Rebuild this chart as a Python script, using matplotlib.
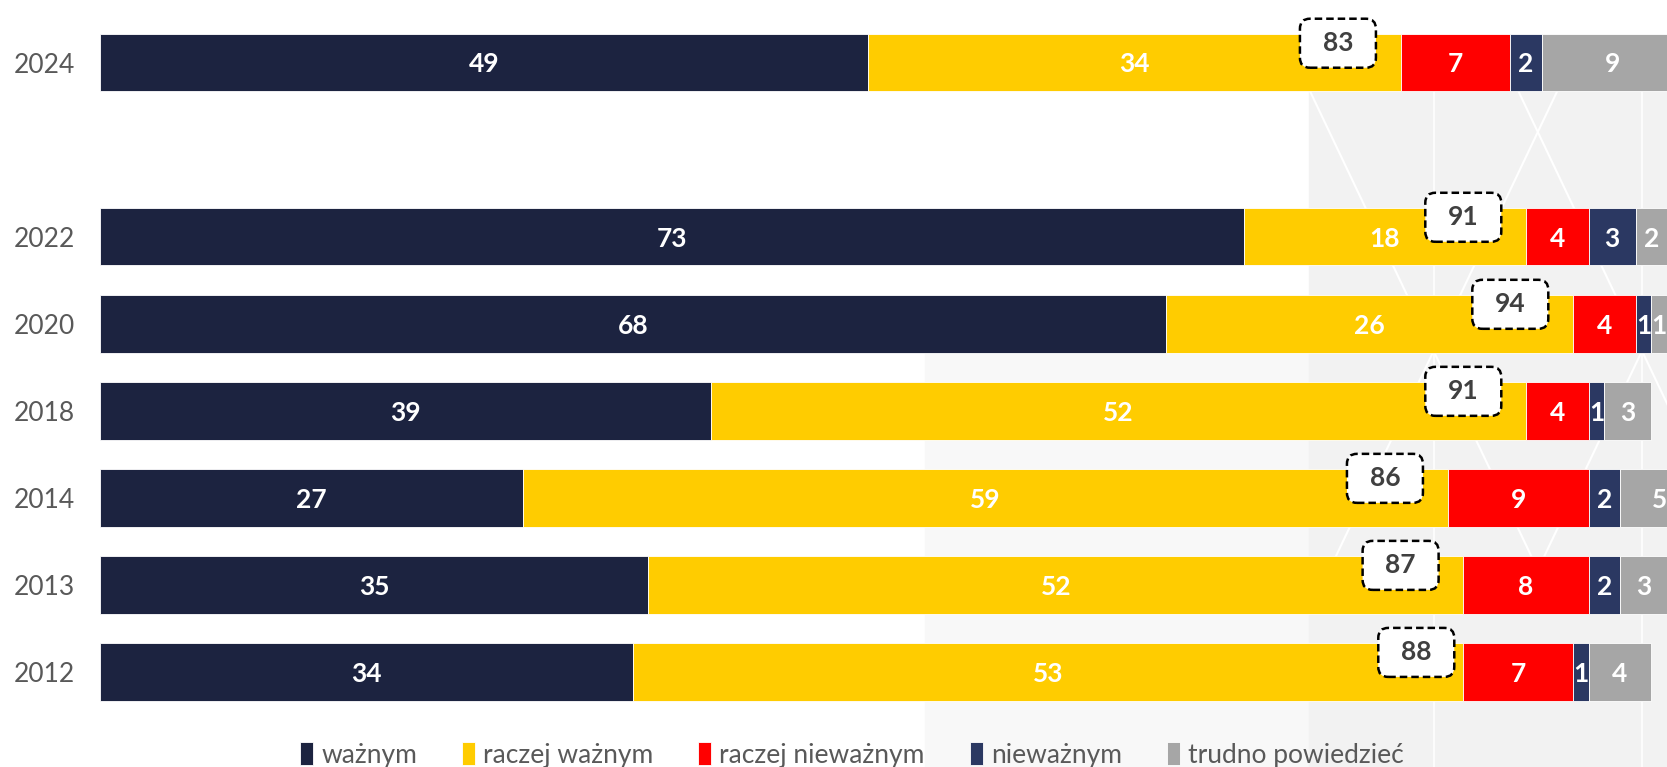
import numpy as np
import matplotlib.pyplot as plt
from matplotlib.patches import FancyBboxPatch, Rectangle
from matplotlib.transforms import ScaledTranslation

# dane
years = ['2024', '2022', '2020', '2018', '2014', '2013', '2012']
positions = [0, 2, 3, 4, 5, 6, 7]   # przerwa między 2024 a 2022
waznym = [49, 73, 68, 39, 27, 35, 34]
raczej_waznym = [34, 18, 26, 52, 59, 52, 53]
raczej_niewaznym = [7, 4, 4, 4, 9, 8, 7]
niewaznym = [2, 3, 1, 1, 2, 2, 1]
trudno = [9, 2, 1, 3, 5, 3, 4]
suma_waznych = [83, 91, 94, 91, 86, 87, 88]

labels = ['ważnym', 'raczej ważnym', 'raczej nieważnym', 'nieważnym', 'trudno powiedzieć']
colors = ['#1c2340', '#ffcc00', '#ff0000', '#2b3862', '#a6a6a6']
series = [waznym, raczej_waznym, raczej_niewaznym, niewaznym, trudno]

plt.rcParams['font.family'] = ['Lato', 'DejaVu Sans']

fig = plt.figure(figsize=(16.67, 7.67), dpi=100)

# tło - jasnoszary wzór po prawej
fig.patches.append(Rectangle((0.555, 0.0), 0.23, 0.60, transform=fig.transFigure,
                             color='#f8f8f8', zorder=-5))
fig.patches.append(Rectangle((0.785, 0.0), 0.215, 0.885, transform=fig.transFigure,
                             color='#f2f2f2', zorder=-5))
for x0 in [0.785, 0.91]:
    fig.lines.append(plt.Line2D([x0, x0 + 0.15], [0.885, 0.2], transform=fig.transFigure,
                                color='white', lw=1.5, zorder=-4))
    fig.lines.append(plt.Line2D([x0 + 0.15, x0], [0.885, 0.2], transform=fig.transFigure,
                                color='white', lw=1.5, zorder=-4))
    fig.lines.append(plt.Line2D([x0 + 0.075, x0 + 0.075], [0.885, 0.0], transform=fig.transFigure,
                                color='white', lw=1.2, zorder=-4))

ax = fig.add_axes([100 / 1667, 0.0559, 1 - 100 / 1667, 0.9304])
ax.patch.set_alpha(0)

left = np.zeros(len(years))
for vals, col, lab in zip(series, colors, labels):
    vals = np.array(vals, dtype=float)
    ax.barh(positions, vals, left=left, height=0.66, color=col,
            edgecolor='white', linewidth=0.6, label=lab)
    for p, l, v in zip(positions, left, vals):
        ax.text(l + v / 2, p + 0.02, f'{int(v)}', ha='center', va='center',
                color='white', fontsize=19, fontweight='bold')
    left += vals

# ramki z sumą odpowiedzi "ważnym" + "raczej ważnym"
for p, s in zip(positions, suma_waznych):
    tr = fig.dpi_scale_trans + ScaledTranslation(s - 4.0, p, ax.transData)
    box = FancyBboxPatch((-0.38, -0.05), 0.76, 0.49,
                         boxstyle='round,pad=0,rounding_size=0.1',
                         transform=tr, facecolor='white', edgecolor='black',
                         linewidth=1.8, linestyle=(0, (3, 1.6)), zorder=5)
    ax.add_patch(box)
    ax.text(0, 0.195, f'{s}', transform=tr, ha='center', va='center',
            color='#404040', fontsize=19, fontweight='bold', zorder=6)

ax.set_xlim(0, 100)
ax.set_ylim(7.6, -0.6)
ax.set_yticks(positions)
ax.set_yticklabels(years, color='#595959', fontsize=19)
ax.tick_params(axis='y', length=0, pad=18)
ax.set_xticks([])
for sp in ax.spines.values():
    sp.set_visible(False)

leg = fig.legend(loc='center', bbox_to_anchor=(0.511, 0.016), ncol=5, frameon=False,
                 fontsize=19, handlelength=0.5, handleheight=1.0, handletextpad=0.3,
                 columnspacing=1.7)
for t in leg.get_texts():
    t.set_color('#595959')

fig.savefig('out.png', dpi=100)
